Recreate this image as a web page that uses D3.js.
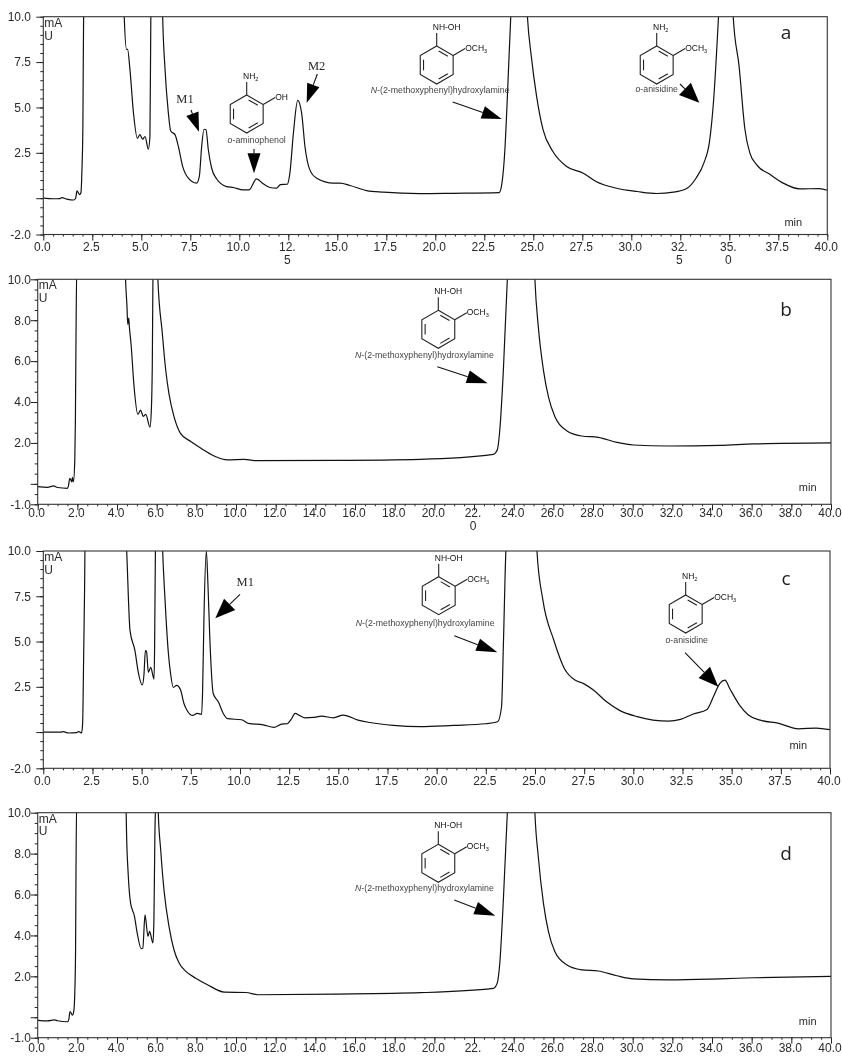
<!DOCTYPE html>
<html>
<head>
<meta charset="utf-8">
<style>
  html, body { margin: 0; padding: 0; background: #fff; }
  svg { display: block; filter: blur(0.35px); }
  text { font-family: "Liberation Sans", Arial, sans-serif; fill: #2a2a2a; }
</style>
<script src="https://cdn.jsdelivr.net/npm/d3@7"></script>
</head>
<body>
<svg id="chart" width="842" height="1056"></svg>
<script>
// tick labels, "\n" is where the original wraps a label
const ticksFive = [0, 2.5, 5, 7.5, 10, 12.5, 15, 17.5, 20, 22.5, 25, 27.5, 30, 32.5, 35, 37.5, 40];
const ticksTwo = [0, 2, 4, 6, 8, 10, 12, 14, 16, 18, 20, 22, 24, 26, 28, 30, 32, 34, 36, 38, 40];
const labelsA = ["0.0", "2.5", "5.0", "7.5", "10.0", "12.\n5", "15.0", "17.5", "20.0", "22.5", "25.0", "27.5", "30.0", "32.\n5", "35.\n0", "37.5", "40.0"];
const labelsB = ["0.0", "2.0", "4.0", "6.0", "8.0", "10.0", "12.0", "14.0", "16.0", "18.0", "20.0", "22.\n0", "24.0", "26.0", "28.0", "30.0", "32.0", "34.0", "36.0", "38.0", "40.0"];
const labelsC = ["0.0", "2.5", "5.0", "7.5", "10.0", "12.5", "15.0", "17.5", "20.0", "22.5", "25.0", "27.5", "30.0", "32.5", "35.0", "37.5", "40.0"];
const labelsD = ["0.0", "2.0", "4.0", "6.0", "8.0", "10.0", "12.0", "14.0", "16.0", "18.0", "20.0", "22.", "24.0", "26.0", "28.0", "30.0", "32.0", "34.0", "36.0", "38.0", "40.0"];

const yTicksWide = [10, 7.5, 5, 2.5, 0, -2];
const yLabelsWide = ["10.0", "7.5", "5.0", "2.5", "", "-2.0"];
const yTicksNarrow = [10, 8, 6, 4, 2, 0, -1];
const yLabelsNarrow = ["10.0", "8.0", "6.0", "4.0", "2.0", "", "-1.0"];

// 11 means off scale (above the frame)
const timeA = [0, 0.5, 0.85, 0.95, 1.2, 1.55, 1.65, 1.72, 1.85, 1.92, 1.97, 2.02, 2.06, 4.1, 4.13, 4.25, 4.3, 4.42, 4.6, 4.8, 4.93, 5.07, 5.19, 5.36, 5.44, 5.48, 5.5, 6.07, 6.09, 6.2, 6.38, 6.5, 6.72, 6.89, 7.11, 7.4, 7.82, 7.96, 8.08, 8.2, 8.3, 8.42, 8.59, 8.84, 9.35, 9.7, 10.2, 10.5, 10.88, 11.22, 11.56, 11.9, 12.1, 12.45, 12.58, 12.76, 12.98, 13.18, 13.35, 13.6, 13.95, 14.8, 15.14, 15.65, 16.5, 17.35, 19.2, 20.9, 23.26, 23.4, 23.55, 23.67, 23.85, 23.9, 24.65, 24.7, 24.9, 25.17, 25.5, 26.0, 26.7, 27.55, 28.2, 29.25, 30.3, 31.3, 32.15, 32.85, 33.3, 33.7, 34.0, 34.2, 34.45, 34.5, 35.15, 35.2, 35.5, 35.8, 36.05, 36.4, 37.1, 37.75, 38.6, 39.6, 40];
const signalA = [0, -0.03, -0.02, 0.03, -0.05, -0.1, 0, 0.4, 0.2, 0.3, 1.5, 4, 10.5, 11, 10, 8.2, 8.2, 7.1, 4.7, 3.3, 3.5, 3.25, 3.4, 2.7, 3.4, 9, 11, 11, 10, 7.3, 4.7, 3.7, 3.5, 2.85, 1.75, 1.1, 0.83, 1.2, 2.85, 3.8, 3.77, 2.67, 1.65, 1.07, 0.64, 0.59, 0.46, 0.46, 1.07, 0.79, 0.59, 0.55, 0.75, 0.77, 1.38, 3.58, 5.39, 4.69, 2.85, 1.56, 1.1, 0.83, 0.83, 0.7, 0.42, 0.33, 0.25, 0.27, 0.31, 0.83, 2.67, 5.4, 10, 11, 11, 10, 7.8, 5.6, 3.77, 2.57, 1.75, 1.38, 0.92, 0.55, 0.37, 0.26, 0.33, 0.55, 1.1, 1.93, 3.2, 5.4, 10, 11, 11, 10, 7.26, 3.77, 2.48, 1.84, 1.29, 0.83, 0.51, 0.53, 0.44];

const timeB = [0, 0.5, 0.8, 1.0, 1.5, 1.55, 1.62, 1.72, 1.75, 1.8, 1.87, 1.9, 1.93, 1.97, 4.4, 4.43, 4.5, 4.54, 4.59, 4.62, 4.71, 4.85, 5.05, 5.19, 5.32, 5.45, 5.66, 5.73, 5.78, 5.81, 5.84, 6.03, 6.06, 6.28, 6.45, 6.62, 6.87, 7.2, 7.72, 8.23, 8.9, 9.58, 10.42, 10.93, 15, 19.3, 22.97, 23.17, 23.3, 23.48, 23.68, 23.72, 25.03, 25.07, 25.24, 25.5, 25.75, 26.08, 26.67, 27.43, 28.27, 29.2, 30.03, 31.8, 34.4, 36.1, 40];
const signalB = [-0.14, -0.17, -0.1, -0.18, -0.22, -0.1, 0.27, 0.1, 0.32, 0.1, 1.17, 3, 7, 10.5, 11, 10, 8.7, 7.8, 8.1, 7.7, 6.8, 4.85, 3.4, 3.6, 3.3, 3.4, 2.77, 3.6, 6, 10, 11, 11, 10, 7.4, 5.6, 4.4, 3.3, 2.47, 2.07, 1.74, 1.36, 1.17, 1.2, 1.14, 1.15, 1.2, 1.44, 1.65, 2.63, 5.56, 10, 11, 11, 10, 7.7, 5.56, 4.26, 3.28, 2.6, 2.34, 2.27, 2.03, 1.9, 1.85, 1.88, 1.95, 2.0];

const timeC = [0, 0.9, 1.0, 1.3, 1.7, 1.8, 1.95, 2.0, 2.05, 2.1, 2.13, 4.2, 4.24, 4.41, 4.66, 4.83, 5.03, 5.12, 5.19, 5.25, 5.34, 5.46, 5.63, 5.66, 5.7, 5.73, 6.04, 6.07, 6.19, 6.36, 6.47, 6.61, 6.78, 6.98, 7.15, 7.32, 7.59, 7.83, 8.05, 8.1, 8.17, 8.29, 8.37, 8.47, 8.64, 8.9, 9.15, 9.37, 10.08, 10.42, 11.19, 11.73, 12.12, 12.4, 12.63, 12.8, 13.05, 13.3, 13.73, 14.15, 14.75, 15.25, 16.0, 16.6, 17.8, 19.15, 20.85, 22.5, 23.1, 23.3, 23.4, 23.52, 23.58, 25.05, 25.1, 25.4, 25.95, 26.5, 27.03, 27.45, 27.97, 28.64, 29.3, 30.2, 31.0, 31.8, 32.4, 33.05, 33.75, 34.07, 34.4, 34.66, 34.9, 35.4, 35.85, 36.45, 37.4, 38.4, 39.3, 40];
const signalC = [0, 0, 0.02, -0.05, -0.03, 0.03, -0.05, 0.5, 4, 8, 11, 11, 10, 5.6, 4.5, 3.3, 2.6, 3.2, 4.5, 4.45, 3.3, 3.57, 2.93, 4.7, 10, 11, 11, 10, 7.3, 4.35, 3.24, 2.47, 2.58, 2.32, 1.58, 1.18, 0.92, 1.03, 0.98, 2.3, 6.4, 10, 8.2, 5.1, 2.13, 1.67, 1.03, 0.74, 0.68, 0.48, 0.4, 0.26, 0.44, 0.46, 0.75, 1.03, 0.9, 0.79, 0.81, 0.88, 0.79, 0.94, 0.66, 0.53, 0.37, 0.3, 0.37, 0.46, 0.57, 1.4, 5.1, 10, 11, 11, 10, 7.3, 5.1, 3.5, 2.87, 2.69, 2.32, 1.67, 1.2, 0.85, 0.66, 0.6, 0.7, 1, 1.25, 1.95, 2.69, 2.87, 2.41, 1.49, 0.94, 0.66, 0.48, 0.18, 0.22, 0.13];

const timeD = [0, 0.5, 0.85, 1.0, 1.5, 1.57, 1.63, 1.75, 1.82, 1.87, 1.91, 1.93, 1.97, 4.43, 4.46, 4.48, 4.56, 4.68, 4.88, 5.02, 5.22, 5.3, 5.41, 5.56, 5.64, 5.81, 5.86, 5.91, 5.95, 5.98, 6.05, 6.08, 6.2, 6.37, 6.62, 6.87, 7.13, 7.47, 7.97, 8.56, 9.41, 10.5, 11.1, 15, 19.3, 22.97, 23.17, 23.3, 23.48, 23.68, 23.72, 25.03, 25.07, 25.24, 25.5, 25.75, 26.08, 26.67, 27.43, 28.27, 29.2, 30.03, 31.8, 34.4, 36.1, 40];
const signalD = [-0.15, -0.18, -0.13, -0.17, -0.22, -0.1, 0.28, 0.1, 0.3, 1.2, 3.3, 7, 10.5, 11, 10, 9, 7.05, 5.6, 4.93, 4.1, 3.35, 3.38, 5, 3.95, 4.2, 3.63, 4.76, 9, 10.5, 11, 11, 10, 8.2, 6.2, 4.44, 3.3, 2.65, 2.24, 1.91, 1.59, 1.23, 1.21, 1.1, 1.13, 1.2, 1.41, 1.67, 2.65, 5.74, 10, 11, 11, 10, 7.86, 5.58, 4.2, 3.2, 2.57, 2.32, 2.26, 2.03, 1.88, 1.83, 1.88, 1.93, 2.0];

const svg = d3.select('#chart');
let clipCount = 0;

function drawPanel(p) {
    const x = d3.scaleLinear().domain([0, 40]).range([p.left, p.right]);
    const y = d3.scaleLinear().domain([p.yMin, 10]).range([p.bottom, p.top]);
    const g = svg.append('g');

    // minor ticks first, then the major ones with labels
    const minorX = d3.axisBottom(x).tickValues(d3.range(0, 40.01, 0.5)).tickSize(2).tickFormat('');
    const minorY = d3.axisLeft(y).tickValues(d3.range(p.yMin, 10.01, 0.5)).tickSize(3).tickFormat('');
    g.append('g').attr('transform', `translate(0,${p.bottom})`).call(minorX);
    g.append('g').attr('transform', `translate(${p.left},0)`).call(minorY);

    const xAxis = d3.axisBottom(x).tickValues(p.xTicks).tickSize(6).tickFormat('');
    const yAxis = d3.axisLeft(y).tickValues(p.yTicks).tickSize(7)
        .tickFormat((d, i) => p.yLabels[i]);
    g.append('g').attr('transform', `translate(0,${p.bottom})`).call(xAxis);
    const yG = g.append('g').attr('transform', `translate(${p.left},0)`).call(yAxis);
    yG.selectAll('text')
        .attr('x', 31 - p.left)
        .attr('font-size', 12)
        .attr('font-family', 'Liberation Sans');
    g.selectAll('.domain').remove();
    g.selectAll('.tick line').attr('stroke', '#222').attr('stroke-width', 1);

    // x labels, a few of them wrap on two lines like in the original
    p.xTicks.forEach((t, i) => {
        const parts = p.xLabels[i].split('\n');
        const txt = g.append('text')
            .attr('x', x(t) - 1)
            .attr('y', p.bottom + p.labelGap)
            .attr('text-anchor', 'middle')
            .attr('font-size', 12);
        parts.forEach((s, j) => {
            txt.append('tspan').attr('x', x(t) - 1).attr('dy', j ? 12.5 : 0).text(s);
        });
    });

    const clipId = 'clip' + (clipCount++);
    svg.append('clipPath').attr('id', clipId).append('rect')
        .attr('x', p.left).attr('y', p.top)
        .attr('width', p.right - p.left).attr('height', p.bottom - p.top);

    const line = d3.line().x(d => x(d[0])).y(d => y(d[1])).curve(d3.curveMonotoneX);
    g.append('path')
        .datum(d3.zip(p.time, p.signal))
        .attr('clip-path', `url(#${clipId})`)
        .attr('fill', 'none')
        .attr('stroke', '#111')
        .attr('stroke-width', 1.2)
        .attr('stroke-linejoin', 'round')
        .attr('d', line);

    g.append('rect')
        .attr('x', p.left).attr('y', p.top)
        .attr('width', p.right - p.left).attr('height', p.bottom - p.top)
        .attr('fill', 'none').attr('stroke', '#333').attr('stroke-width', 1.1);

    g.append('text').attr('x', p.left + 1).attr('y', p.top + p.unitDy).attr('font-size', 12).text('mA');
    g.append('text').attr('x', p.left + 1).attr('y', p.top + p.unitDy + 12.5).attr('font-size', 12).text('U');
    g.append('text').attr('x', p.minX).attr('y', p.minY).attr('text-anchor', 'middle')
        .attr('font-size', 11).text('min');
    g.append('text').attr('x', 786).attr('y', p.letterY).attr('text-anchor', 'middle')
        .style('font-family', '"Open Sans"').style('fill', '#222')
        .attr('font-size', 19).text(p.letter);
}

// benzene ring with its two substituents, cx/cy is the ring centre
function ring(cx, cy, top, topDx, side) {
    const g = svg.append('g').attr('stroke', '#222').attr('stroke-width', 1.1).attr('fill', 'none');
    const r = 19;
    const pts = d3.range(6).map(i => {
        const a = -Math.PI / 2 + i * Math.PI / 3;
        return [cx + r * Math.cos(a), cy + r * Math.sin(a)];
    });
    g.append('path').attr('d', d3.line()(pts) + 'Z');
    // inner strokes of the three double bonds
    [[0, 1], [2, 3], [4, 5]].forEach(e => {
        const a = pts[e[0]], b = pts[e[1]];
        const s = 0.8, t = 0.15;
        const ia = [cx + (a[0] - cx) * s, cy + (a[1] - cy) * s];
        const ib = [cx + (b[0] - cx) * s, cy + (b[1] - cy) * s];
        g.append('line')
            .attr('x1', ia[0] + (ib[0] - ia[0]) * t).attr('y1', ia[1] + (ib[1] - ia[1]) * t)
            .attr('x2', ib[0] - (ib[0] - ia[0]) * t).attr('y2', ib[1] - (ib[1] - ia[1]) * t);
    });
    g.append('line').attr('x1', pts[0][0]).attr('y1', pts[0][1]).attr('x2', pts[0][0]).attr('y2', pts[0][1] - 13);
    g.append('line').attr('x1', pts[1][0]).attr('y1', pts[1][1]).attr('x2', pts[1][0] + 12).attr('y2', pts[1][1] - 7);

    chem(cx + topDx, cy - 38, top, 'middle');
    chem(pts[1][0] + 12, cy - 17, side, 'start');
}

// formula with the trailing digit as a subscript
function chem(x, y, s, anchor) {
    const t = svg.append('text').attr('x', x).attr('y', y + 3)
        .attr('text-anchor', anchor).attr('font-size', 8.5).style('fill', '#111');
    const m = s.match(/^(.*?)(\d)$/);
    if (m) {
        t.append('tspan').text(m[1]);
        t.append('tspan').attr('font-size', 5.5).attr('dy', 2).text(m[2]);
    } else {
        t.text(s);
    }
}

function caption(x, y, anchor, italic, rest) {
    const t = svg.append('text').attr('x', x).attr('y', y + 3)
        .attr('text-anchor', anchor).attr('font-size', 8.8).style('fill', '#444');
    t.append('tspan').attr('font-style', 'italic').text(italic);
    t.append('tspan').text(rest);
}

function arrow(x1, y1, x2, y2, len, w) {
    const a = Math.atan2(y2 - y1, x2 - x1);
    const bx = x2 - len * Math.cos(a), by = y2 - len * Math.sin(a);
    const nx = -Math.sin(a) * w / 2, ny = Math.cos(a) * w / 2;
    svg.append('line').attr('x1', x1).attr('y1', y1).attr('x2', bx).attr('y2', by)
        .attr('stroke', '#111').attr('stroke-width', 1.1);
    svg.append('path')
        .attr('d', d3.line()([[x2, y2], [bx + nx, by + ny], [bx - nx, by - ny]]) + 'Z')
        .attr('fill', '#000');
}

function metabolite(x, y, s) {
    svg.append('text').attr('x', x).attr('y', y + 4).attr('text-anchor', 'middle')
        .style('font-family', '"Liberation Serif"').attr('font-size', 12.5).text(s);
}

drawPanel({ left: 43.3, right: 827.3, top: 16.7, bottom: 234.5, yMin: -2,
    xTicks: ticksFive, xLabels: labelsA, yTicks: yTicksWide, yLabels: yLabelsWide,
    time: timeA, signal: signalA, labelGap: 16.5, unitDy: 10.5, minX: 793.3, minY: 226, letter: 'a', letterY: 39 });
drawPanel({ left: 37.7, right: 831, top: 279.3, bottom: 504.3, yMin: -1,
    xTicks: ticksTwo, xLabels: labelsB, yTicks: yTicksNarrow, yLabels: yLabelsNarrow,
    time: timeB, signal: signalB, labelGap: 13, unitDy: 10, minX: 807.7, minY: 491, letter: 'b', letterY: 316 });
drawPanel({ left: 43.3, right: 830, top: 551, bottom: 768.3, yMin: -2,
    xTicks: ticksFive, xLabels: labelsC, yTicks: yTicksWide, yLabels: yLabelsWide,
    time: timeC, signal: signalC, labelGap: 16.5, unitDy: 10, minX: 798.3, minY: 749, letter: 'c', letterY: 585 });
drawPanel({ left: 37.7, right: 831, top: 812.7, bottom: 1037.7, yMin: -1,
    xTicks: ticksTwo, xLabels: labelsD, yTicks: yTicksNarrow, yLabels: yLabelsNarrow,
    time: timeD, signal: signalD, labelGap: 14.5, unitDy: 10, minX: 807.7, minY: 1025, letter: 'd', letterY: 860 });

// panel a
ring(246.7, 114, 'NH2', 4, 'OH');
caption(256.7, 140, 'middle', 'o', '-aminophenol');
ring(436.7, 65, 'NH-OH', 10, 'OCH3');
caption(370.7, 89.5, 'start', 'N', '-(2-methoxyphenyl)hydroxylamine');
ring(656.7, 65, 'NH2', 4, 'OCH3');
caption(656.7, 89.3, 'middle', 'o', '-anisidine');
arrow(452.7, 102, 501.7, 119, 20, 13);
arrow(680, 84, 699.3, 102.7, 20, 17);
arrow(191, 110, 199, 131.7, 19, 13);
arrow(317.3, 74, 306.7, 102.7, 19, 13);
arrow(254, 149, 254, 173.3, 20, 13);
metabolite(185, 98.7, 'M1');
metabolite(316.7, 65.7, 'M2');

// panel b
ring(438.3, 329.3, 'NH-OH', 10, 'OCH3');
caption(355, 354.7, 'start', 'N', '-(2-methoxyphenyl)hydroxylamine');
arrow(437.3, 366.7, 487.7, 383.3, 21, 13);

// panel c
ring(438.7, 595.7, 'NH-OH', 10, 'OCH3');
caption(355.7, 623.3, 'start', 'N', '-(2-methoxyphenyl)hydroxylamine');
ring(685.7, 614, 'NH2', 4, 'OCH3');
caption(686.7, 640.3, 'middle', 'o', '-anisidine');
arrow(454.3, 635.7, 497.3, 652.3, 21, 13);
arrow(685, 652.7, 718.3, 686.7, 20, 16);
arrow(240, 594.3, 215.3, 618.3, 20, 16);
metabolite(245.3, 581.7, 'M1');

// panel d
ring(438.3, 863.3, 'NH-OH', 10, 'OCH3');
caption(355, 888.3, 'start', 'N', '-(2-methoxyphenyl)hydroxylamine');
arrow(454.3, 900, 495.3, 915.7, 21, 13);
</script>
</body>
</html>
